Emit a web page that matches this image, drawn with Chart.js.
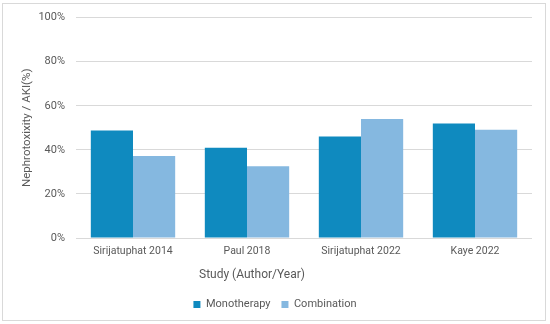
<!DOCTYPE html>
<html>
<head>
    <meta charset="utf-8" />
    <title>Nephrotoxicity by study</title>
    <script src="https://cdn.jsdelivr.net/npm/chart.js"></script>
    <style>
        html, body { margin: 0; padding: 0; background: #fff; }
        #wrap { position: relative; width: 550px; height: 324px; }
        #frame {
            position: absolute; left: 2px; top: 3px; width: 544px; height: 318px;
            box-sizing: border-box; border: 1px solid #d9d9d9;
        }
        #chart { position: absolute; left: 0; top: 0; }
    </style>
</head>
<body>
    <div id="wrap">
        <div id="frame"></div>
        <canvas id="chart" width="550" height="324"></canvas>
    </div>

    <script>
        // Data
        const studies = ['Sirijatuphat 2014', 'Paul 2018', 'Sirijatuphat 2022', 'Kaye 2022'];
        const monotherapy = [48.8, 41.0, 46.0, 52.0];
        const combination = [37.2, 32.6, 54.0, 49.1];
        const yTicks = [0, 20, 40, 60, 80, 100];

        const textColor = '#595959';
        const fontFamily = 'Roboto, "Liberation Sans", sans-serif';

        // x axis title sits left of the plot centre in the original, so draw it here
        const xTitlePlugin = {
            id: 'xTitle',
            afterDraw(chart) {
                const ctx = chart.ctx;
                ctx.save();
                ctx.font = '12px ' + fontFamily;
                ctx.fillStyle = textColor;
                ctx.textAlign = 'center';
                ctx.textBaseline = 'middle';
                ctx.fillText('Study (Author/Year)', 252, 275);
                ctx.restore();
            }
        };

        // legend is centred on the whole frame, not on the padded box
        const legendShift = {
            id: 'legendShift',
            afterLayout(chart) {
                const lg = chart.legend;
                lg.left = 9;
                lg.right = chart.width - 9;
            }
        };

        new Chart(document.getElementById('chart'), {
            type: 'bar',
            data: {
                labels: studies,
                datasets: [{
                    label: 'Monotherapy',
                    data: monotherapy,
                    backgroundColor: '#0f8abf'
                }, {
                    label: 'Combination',
                    data: combination,
                    backgroundColor: '#85b8e0'
                }]
            },
            options: {
                responsive: false,
                animation: false,
                layout: { padding: { top: 17, right: 18, left: 0, bottom: 4 } },
                datasets: { bar: { categoryPercentage: 0.74, barPercentage: 1.0 } },
                plugins: {
                    legend: {
                        position: 'bottom',
                        labels: {
                            boxWidth: 7, boxHeight: 7, padding: 11,
                            color: textColor,
                            font: { size: 11, family: fontFamily }
                        }
                    },
                    tooltip: { enabled: false }
                },
                scales: {
                    x: {
                        grid: { display: false, drawTicks: false },
                        border: { display: false },
                        ticks: { color: textColor, padding: 7, font: { size: 10.5, family: fontFamily } },
                        afterFit(scale) { scale.height = 50; }
                    },
                    y: {
                        min: 0,
                        max: 100,
                        afterBuildTicks(scale) { scale.ticks = yTicks.map(v => ({ value: v })); },
                        grid: { color: '#d9d9d9', drawTicks: false },
                        border: { display: false },
                        ticks: {
                            color: textColor, padding: 11,
                            font: { size: 11, family: fontFamily },
                            callback: v => v + '%'
                        },
                        title: {
                            display: true,
                            text: 'Nephrotoxixity / AKI(%)',
                            color: textColor,
                            padding: { top: 20, bottom: 0 },
                            font: { size: 11.5, family: fontFamily }
                        },
                        afterFit(scale) { scale.width = 76; }
                    }
                }
            },
            plugins: [xTitlePlugin, legendShift]
        });
    </script>
</body>
</html>
